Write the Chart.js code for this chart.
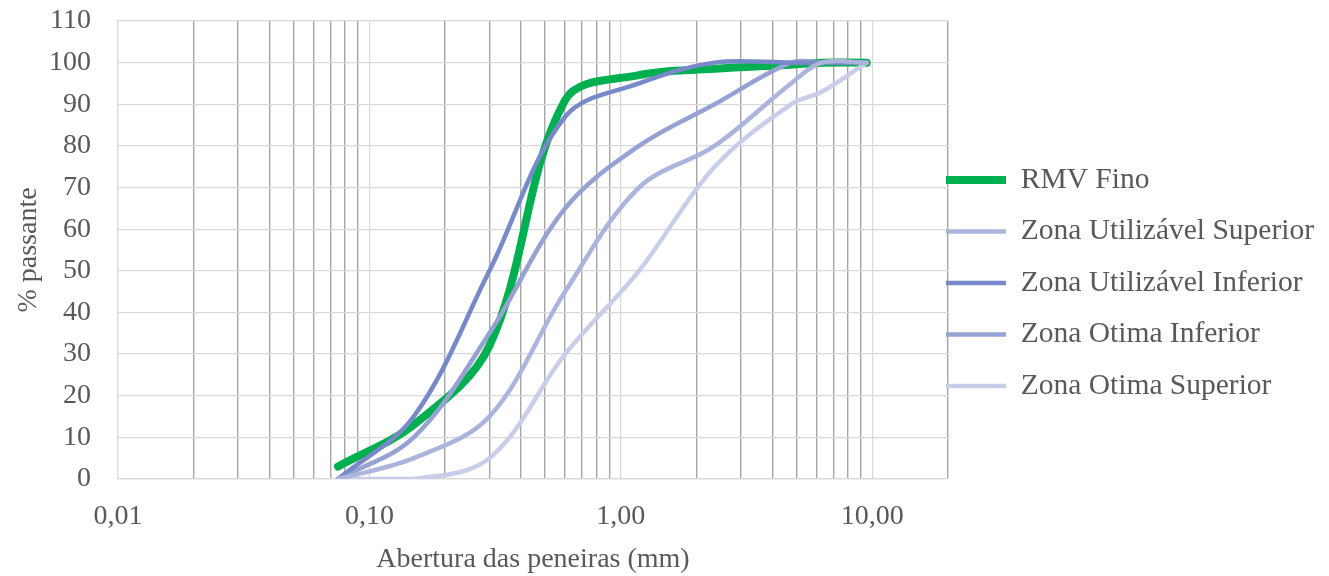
<!DOCTYPE html>
<html><head><meta charset="utf-8">
<style>html,body{margin:0;padding:0;background:#fff;} #wrap{width:1329px;height:576px;position:relative;}</style>
<script src="https://cdn.jsdelivr.net/npm/chart.js@4.4.1/dist/chart.umd.min.js"></script>
</head><body><div id="wrap"><canvas id="c" width="1329" height="576"></canvas></div>
<script>
// Sieve openings (mm)
const sieveSizes = [0.075, 0.15, 0.3, 0.6, 1.18, 2.36, 4.75, 6.3, 9.5];
// % passing for each series
const rmvFino                = [3, 13, 32, 91, 97, 98.5, 99.5, 100, 100];
const zonaUtilizavelSuperior = [0, 5, 15, 45, 70, 80, 95, 100, 100];
const zonaUtilizavelInferior = [0, 15, 50, 87, 95, 100, 100, 100, 100];
const zonaOtimaInferior      = [0, 10, 35, 65, 80, 90, 100, 100, 100];
const zonaOtimaSuperior      = [0, 0, 5, 30, 50, 75, 90, 93, 100];
const seriesNames = ['RMV Fino', 'Zona Utilizável Superior', 'Zona Utilizável Inferior', 'Zona Otima Inferior', 'Zona Otima Superior'];
// Axis ticks
const xGridValues = [0.01,0.02,0.03,0.04,0.05,0.06,0.07,0.08,0.09,0.1,0.2,0.3,0.4,0.5,0.6,0.7,0.8,0.9,1,2,3,4,5,6,7,8,9,10,20];
const xLabelValues = [0.01, 0.1, 1, 10];
const xLabelTexts = ['0,01', '0,10', '1,00', '10,00'];
const yMin = 0, yMax = 110, yStep = 10;
const xTitle = 'Abertura das peneiras (mm)';
const yTitle = '% passante';

const FONT = "'Liberation Serif', 'Times New Roman', serif";
const TXT = '#595959';
const pts = arr => sieveSizes.map((s, i) => ({x: s, y: arr[i]}));
const isMajor = v => xLabelValues.some(m => Math.abs(m - v) < 1e-9);

const mk = (label, data, color, w, order) => ({
  label, data: pts(data), borderColor: color, backgroundColor: color,
  borderWidth: w, pointRadius: 0, pointHoverRadius: 0, tension: 0.35,
  borderCapStyle: 'round', borderJoinStyle: 'round', fill: false, order
});

const LEG_FONT = 29.5, LEG_PAD = 22;
const legendPlace = {
  id: 'legendPlace',
  afterLayout(chart) {
    const lg = chart.legend;
    if (!lg) return;
    lg.left = 946 - LEG_PAD; lg.right = chart.width; lg.width = lg.right - lg.left;
    const colH = seriesNames.length * (LEG_FONT + LEG_PAD);
    const firstTop = 180 - LEG_FONT / 2;
    lg.top = firstTop - LEG_PAD; lg.bottom = firstTop + colH; lg.height = lg.bottom - lg.top;
  }
};

new Chart(document.getElementById('c'), {
  type: 'line',
  data: {
    datasets: [
      mk(seriesNames[0], rmvFino, '#00b050', 8, 1),
      mk(seriesNames[1], zonaUtilizavelSuperior, '#aab4dc', 4.5, 0),
      mk(seriesNames[2], zonaUtilizavelInferior, '#7789c9', 4.5, 0),
      mk(seriesNames[3], zonaOtimaInferior, '#95a2d3', 4.5, 0),
      mk(seriesNames[4], zonaOtimaSuperior, '#c9cee8', 4.5, 0)
    ]
  },
  plugins: [legendPlace],
  options: {
    responsive: false, animation: false, devicePixelRatio: 1,
    layout: {padding: {top: 21, left: 0, right: 0, bottom: 0}},
    plugins: {
      tooltip: {enabled: false},
      legend: {
        position: 'right', align: 'center', maxWidth: 1329 - 948,
        labels: {
          usePointStyle: true, pointStyle: 'line', pointStyleWidth: 60,
          padding: LEG_PAD, color: TXT, font: {family: FONT, size: LEG_FONT},
          sort: (a, b) => a.datasetIndex - b.datasetIndex
        }
      }
    },
    scales: {
      x: {
        type: 'logarithmic', min: 0.01, max: 20,
        afterBuildTicks: s => { s.ticks = xGridValues.map(v => ({value: v, major: isMajor(v)})); },
        afterFit: s => { s.height = 576 - 479; s.paddingLeft = 0; s.paddingRight = 0; },
        ticks: {
          autoSkip: false, maxRotation: 0, minRotation: 0, padding: 21, color: TXT,
          font: {family: FONT, size: 28},
          callback: v => { const i = xLabelValues.findIndex(m => Math.abs(m - v) < 1e-9); return i >= 0 ? xLabelTexts[i] : ''; }
        },
        grid: {
          drawTicks: false,
          color: c => (c.tick && isMajor(c.tick.value)) ? '#d9d9d9' : '#a6a6a6',
          lineWidth: c => (c.tick && isMajor(c.tick.value)) ? 1.2 : 1.4
        },
        border: {color: '#d9d9d9', width: 1.2},
        title: {display: true, text: xTitle, color: TXT, font: {family: FONT, size: 28}, padding: {top: 0, bottom: 0}}
      },
      y: {
        min: yMin, max: yMax,
        afterFit: s => { s.width = 118; s.paddingTop = 0; s.paddingBottom = 0; },
        ticks: {stepSize: yStep, padding: 27, color: TXT, font: {family: FONT, size: 28}},
        grid: {drawTicks: false, color: '#d9d9d9', lineWidth: 1.2},
        border: {color: '#d9d9d9', width: 1.2},
        title: {display: true, text: yTitle, color: TXT, font: {family: FONT, size: 28}, padding: {top: 12, bottom: 0}}
      }
    }
  }
});
</script></body></html>
